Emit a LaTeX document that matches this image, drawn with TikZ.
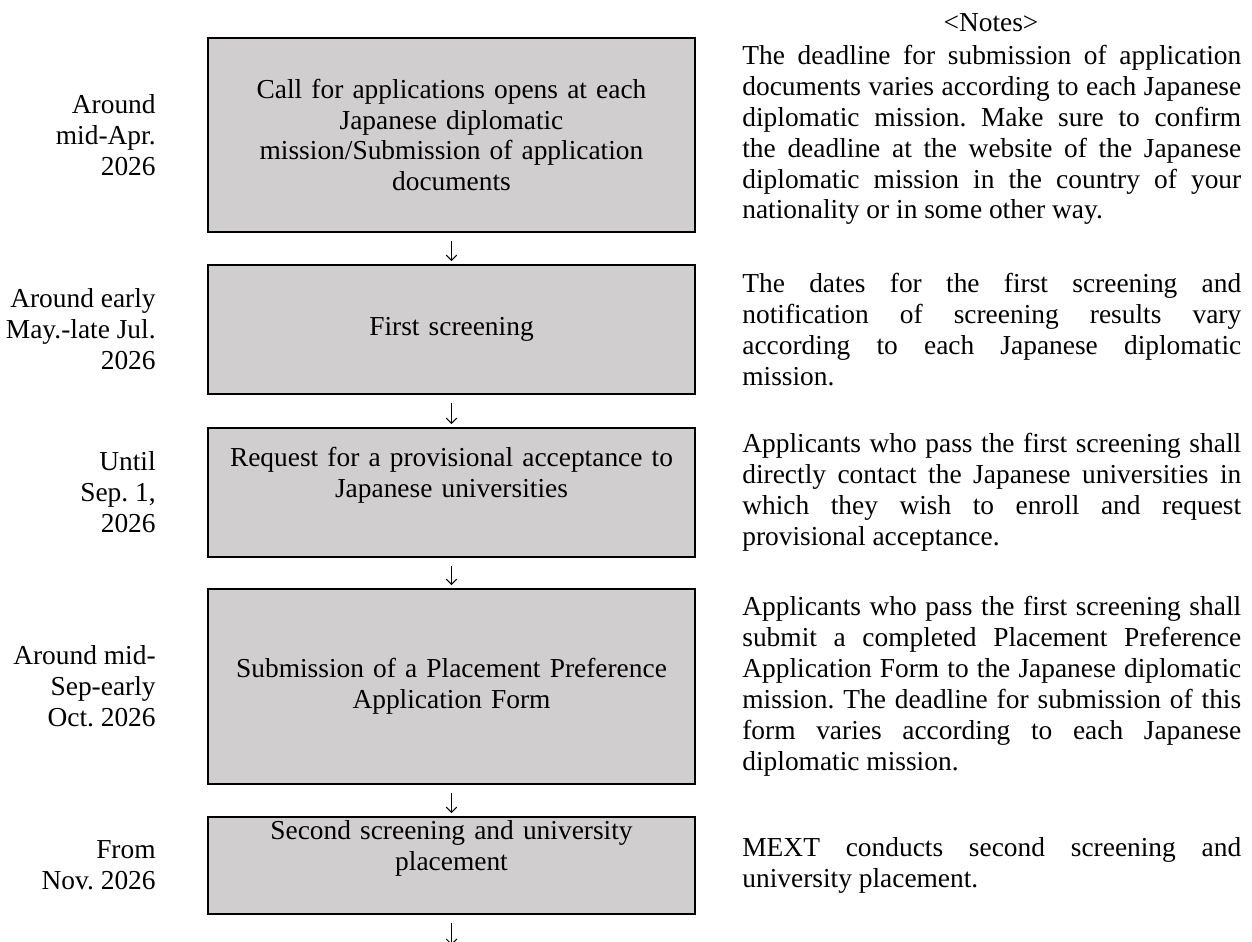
\documentclass[tikz,border=0pt]{standalone}
\usepackage{fontspec}
\setmainfont{Liberation Serif}
\usetikzlibrary{arrows.meta}
\frenchspacing
\definecolor{boxgray}{RGB}{208,206,206}
\tikzset{
  stagebox/.style={draw, line width=1.1pt, fill=boxgray, inner sep=0pt, text width=9.74cm, align=center},
  datelabel/.style={anchor=east, inner sep=0pt, align=right},
  notetext/.style={anchor=west, inner sep=0pt, text width=9.98cm, align=justify},
  flow/.style={-{Straight Barb[length=3pt,width=6pt]}, line width=0.6pt, shorten <=0.16cm, shorten >=0.06cm}
}
\newcommand{\stage}[4]{\node[stagebox, minimum height=#3cm] (#1) at (451.5,#2) {#4};}
\newcommand{\datenode}[3]{\node[datelabel] (#1) at (156,#2) {#3};}
\newcommand{\notenode}[3]{\node[notetext] (#1) at (742,#2) {#3};}

\begin{document}
\begin{tikzpicture}[x=0.02cm, y=-0.02cm, every node/.style={font=\fontsize{15.6}{17.6}\selectfont}]
        \useasboundingbox (0,0) rectangle (1252,942);
        \node[inner sep=0pt] (notestitle) at (991,23) {<Notes>};
        % stages
        \stage{apply}{135}{3.88}{Call for applications opens at each\\Japanese diplomatic\\mission/Submission of application\\documents}
        \stage{first}{329.5}{2.58}{First screening}
        \stage{request}{492.5}{2.58}{Request for a provisional acceptance to\\Japanese universities\\\strut}
        \stage{placement}{686.5}{3.9}{Submission of a Placement Preference\\Application Form}
        \stage{second}{865.5}{1.94}{Second screening and university\\placement\\\strut}
        % dates
        \datenode{d1}{135}{Around\\mid-Apr.\\2026}
        \datenode{d2}{329.5}{Around early\\May.-late Jul.\\2026}
        \datenode{d3}{492.5}{Until\\Sep. 1,\\2026}
        \datenode{d4}{686.5}{Around mid-\\Sep-early\\Oct. 2026}
        \datenode{d5}{865.5}{From\\Nov. 2026}
        % notes
        \notenode{n1}{135}{The deadline for submission of application\linebreak documents varies according to each Japanese\linebreak diplomatic mission. Make sure to confirm\linebreak the deadline at the website of the Japanese\linebreak diplomatic mission in the country of your\linebreak nationality or in some other way.}
        \notenode{n2}{329.5}{The dates for the first screening and\linebreak notification of screening results vary\linebreak according to each Japanese diplomatic\linebreak mission.}
        \notenode{n3}{492.5}{Applicants who pass the first screening shall\linebreak directly contact the Japanese universities in\linebreak which they wish to enroll and request\linebreak provisional acceptance.}
        \notenode{n4}{686.5}{Applicants who pass the first screening shall\linebreak submit a completed Placement Preference\linebreak Application Form to the Japanese diplomatic\linebreak mission. The deadline for submission of this\linebreak form varies according to each Japanese\linebreak diplomatic mission.}
        \notenode{n5}{865.5}{MEXT conducts second screening and\linebreak university placement.}
        % arrows
        \draw[flow] (apply) -- (first);
        \draw[flow] (first) -- (request);
        \draw[flow] (request) -- (placement);
        \draw[flow] (placement) -- (second);
        \coordinate (after) at (451.5,948);
        \draw[flow] (second) -- (after);
\end{tikzpicture}
\end{document}
